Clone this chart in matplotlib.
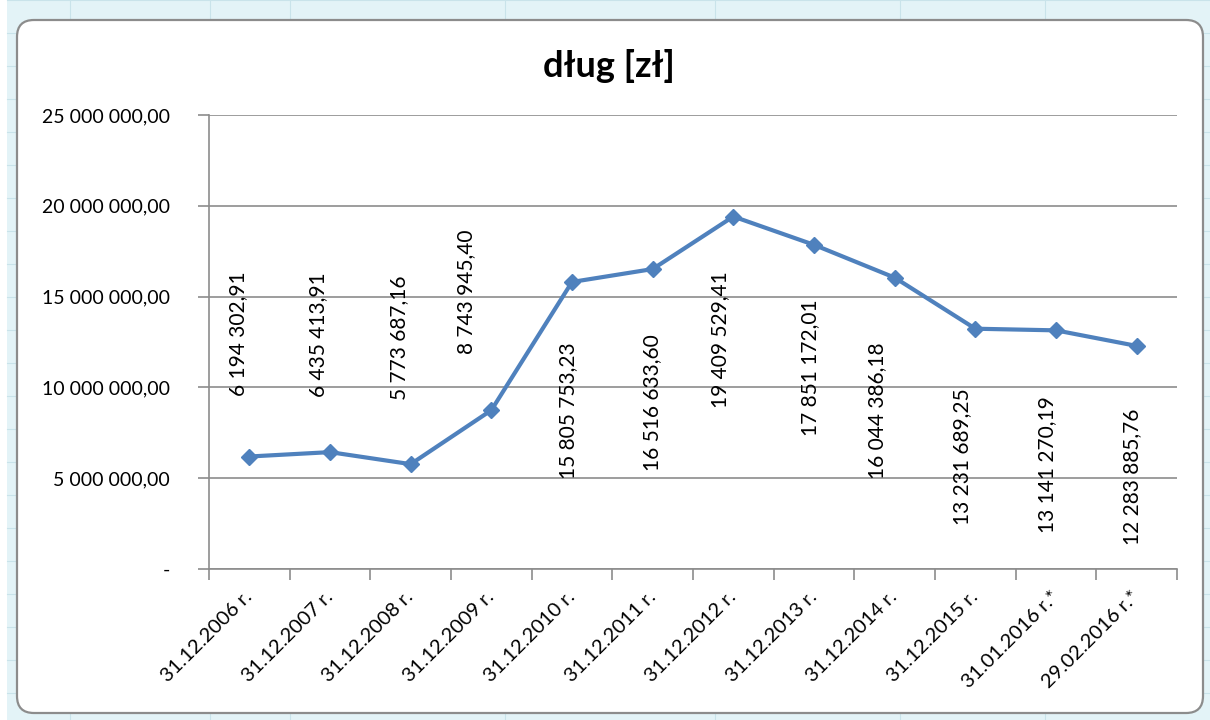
import matplotlib
matplotlib.use("Agg")
import matplotlib.pyplot as plt
from matplotlib.patches import FancyBboxPatch
import numpy as np

# ---- data ----
categories = ["31.12.2006 r.", "31.12.2007 r.", "31.12.2008 r.", "31.12.2009 r.",
              "31.12.2010 r.", "31.12.2011 r.", "31.12.2012 r.", "31.12.2013 r.",
              "31.12.2014 r.", "31.12.2015 r.", "31.01.2016 r.*", "29.02.2016 r.*"]
debt = [6194302.91, 6435413.91, 5773687.16, 8743945.40, 15805753.23, 16516633.60,
        19409529.41, 17851172.01, 16044386.18, 13231689.25, 13141270.19, 12283885.76]
y_ticks = [0, 5000000, 10000000, 15000000, 20000000, 25000000]
title = "dług [zł]"

# ---- label layout (centre of each rotated data label) ----
label_dx = [-0.14, -0.15, -0.14, -0.31, -0.05, -0.01, -0.17, -0.05, -0.22, -0.17, -0.11, -0.06]
label_y = [12.94e6, 12.89e6, 12.72e6, 15.25e6, 8.70e6, 9.14e6, 12.61e6, 11.07e6,
           8.70e6, 6.17e6, 5.73e6, 5.07e6]

FONT = ["Lato", "DejaVu Sans"]
plt.rcParams['font.family'] = FONT


def pl_fmt(v):
    s = f"{v:,.2f}"
    return s.replace(",", " ").replace(".", ",")


def tick_fmt(v):
    if v == 0:
        return "-"
    return pl_fmt(v)


fig = plt.figure(figsize=(12.1, 7.2), dpi=100)
fig.patch.set_facecolor("white")

# Excel-like sheet frame
fig.add_artist(plt.Rectangle((7 / 1210, 0), (1210 - 7) / 1210, 1, transform=fig.transFigure,
                             facecolor="#e3f3f7", edgecolor="none", zorder=0))
for yy in np.arange(0, 720, 33):
    fig.add_artist(plt.Line2D([7 / 1210, 1], [1 - yy / 720] * 2, transform=fig.transFigure,
                              color="#c9e3ea", lw=0.8, zorder=0))
for xx in [70, 210, 290, 505, 715, 900, 1045]:
    fig.add_artist(plt.Line2D([xx / 1210] * 2, [0, 1], transform=fig.transFigure,
                              color="#c9e3ea", lw=0.8, zorder=0))
card = FancyBboxPatch((17 / 1210, 7 / 720), (1203 - 17) / 1210, (700 - 7) / 720,
                      boxstyle="round,pad=0,rounding_size=0.014",
                      transform=fig.transFigure, facecolor="white",
                      edgecolor="#8c8c8c", lw=1.6, zorder=1,
                      mutation_aspect=1210 / 720)
fig.add_artist(card)

ax = fig.add_axes([209 / 1210, 1 - 569 / 720, (1177 - 209) / 1210, (569 - 115) / 720])
ax.set_zorder(2)
ax.patch.set_alpha(0)

x = np.arange(len(categories))
ax.plot(x, debt, color="#4f81bd", lw=3, marker="D", markersize=8,
        markerfacecolor="#4f81bd", markeredgecolor="#4f81bd", zorder=3)

for i, v in enumerate(debt):
    ax.text(x[i] + label_dx[i], label_y[i], pl_fmt(v), rotation=90,
            ha="center", va="center", fontsize=15, color="black", zorder=4)

ax.set_xlim(-0.5, len(categories) - 0.5)
ax.set_ylim(0, 25000000)
ax.set_yticks(y_ticks)
ax.set_yticklabels([tick_fmt(t) for t in y_ticks], fontsize=14)
ax.yaxis.grid(True, color="#8c8c8c", lw=1.2)
ax.set_axisbelow(True)

ax.set_xticks(x)
ax.set_xticklabels(categories, rotation=45, ha="right", va="center",
                   rotation_mode="anchor", fontsize=14.5)
ax.tick_params(axis="x", which="major", length=0, pad=18)
ax.set_xticks(np.arange(-0.5, len(categories)), minor=True)
ax.tick_params(axis="x", which="minor", length=8, color="#8c8c8c", width=1.2)
ax.tick_params(axis="y", length=8, color="#8c8c8c", width=1.2, pad=20)

for s in ["top", "right"]:
    ax.spines[s].set_visible(False)
for s in ["left", "bottom"]:
    ax.spines[s].set_color("#8c8c8c")
    ax.spines[s].set_linewidth(1.2)

fig.text(609 / 1210, 1 - 66 / 720, title, ha="center", va="center",
         fontsize=26, fontweight="bold", zorder=3)

fig.savefig("out.png", dpi=100, facecolor=fig.get_facecolor())
